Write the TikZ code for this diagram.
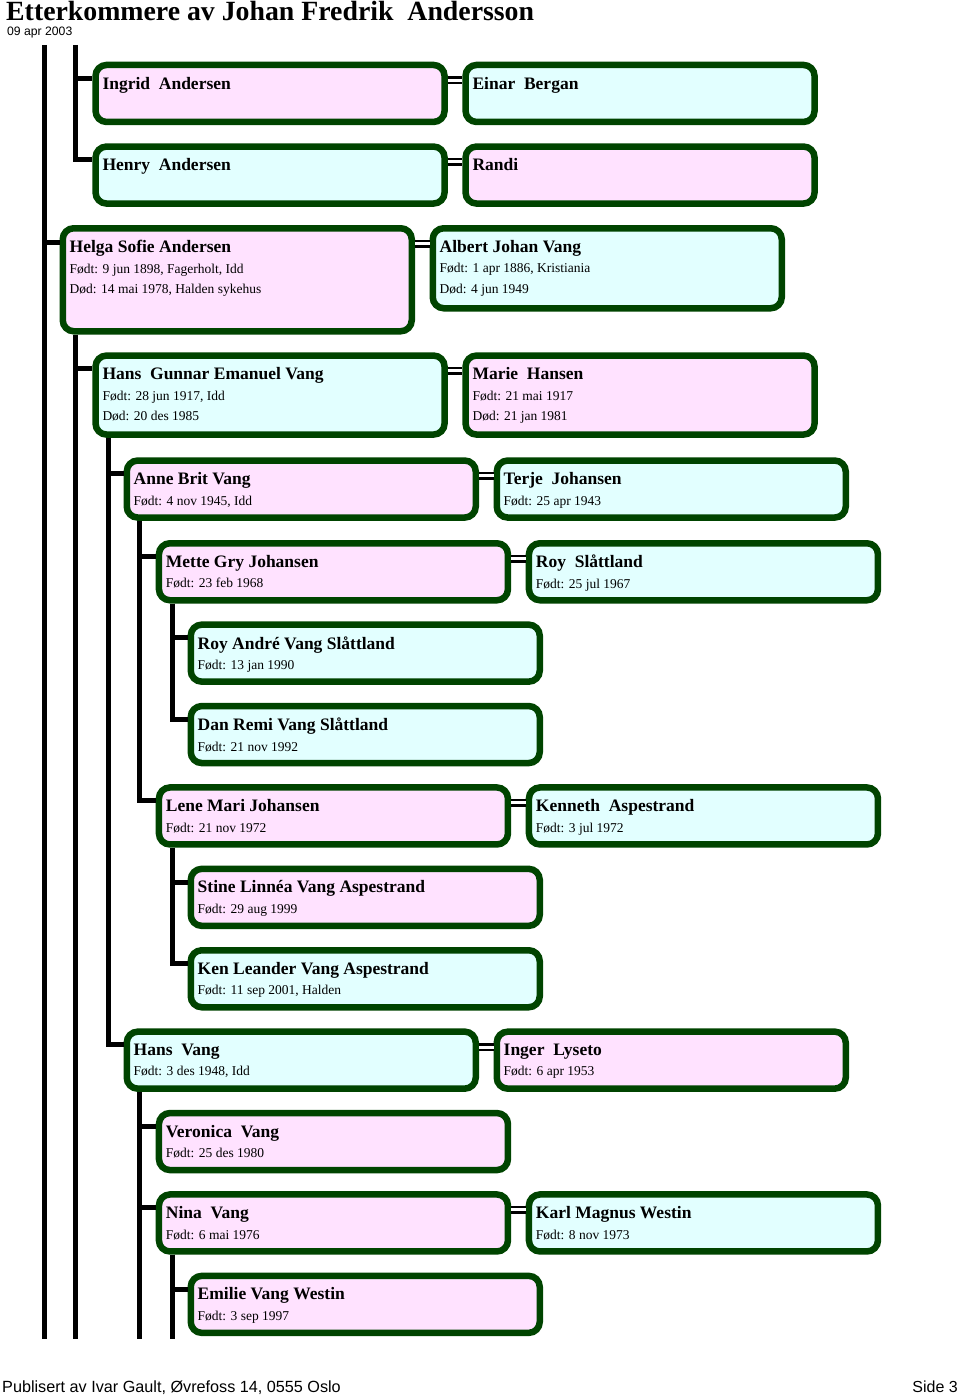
\documentclass[tikz,border=0pt]{standalone}
\usepackage{fontspec}
\setmainfont{Liberation Serif}
\setsansfont{Liberation Sans}
\usepackage{tikz}
\usetikzlibrary{positioning}

\definecolor{mork}{RGB}{0,68,0}
\definecolor{lyserosa}{RGB}{255,226,255}
\definecolor{lysebla}{RGB}{226,255,255}

\newcommand{\navn}[1]{{\fontsize{17.5}{20.5}\selectfont\bfseries #1}}

\tikzset{
  boks/.style={draw=mork, line width=6.5pt, rounded corners=11pt, anchor=north west,
    minimum width=349pt, minimum height=57pt, inner sep=0pt},
  rosa/.style={boks, fill=lyserosa},
  bla/.style={boks, fill=lysebla},
  tekst/.style={anchor=north west, align=left, inner sep=0pt, xshift=10pt, yshift=-15pt,
    font=\fontsize{13.5}{20.5}\selectfont},
  linje/.style={line width=5pt},
  gift/.style={double, line width=2.4pt, double distance=3pt}
}

\begin{document}
\begin{tikzpicture}[x=1pt, y=-1pt]
    \useasboundingbox (0,0) rectangle (960,1397);

    % overskrift og bunntekst
    \node[anchor=base west, inner sep=0pt, font=\fontsize{27.8}{30}\selectfont\bfseries] (tittel) at (6,20.5) {Etterkommere av Johan Fredrik~~Andersson};
    \node[anchor=base west, inner sep=0pt, font=\sffamily\fontsize{12.2}{14}\selectfont] (dato) at (7,35.5) {09 apr 2003};
    \node[anchor=base west, inner sep=0pt, font=\sffamily\fontsize{16.2}{18}\selectfont] (utgiver) at (2,1392) {Publisert av Ivar Gault, Øvrefoss 14, 0555 Oslo};
    \node[anchor=base east, inner sep=0pt, font=\sffamily\fontsize{16}{18}\selectfont] (side) at (958,1392) {Side 3};

    % linjene fortsetter over og under siden
    \coordinate (topp) at (0,45);
    \coordinate (bunn) at (0,1339);

    % bokser
    \node[rosa] (ingrid) at (92.3,61.7) {};
    \node[bla, right=14.5pt of ingrid.north east, anchor=north west] (einar) {};
    \node[bla] (henry) at (92.3,143.3) {};
    \node[rosa, right=14.5pt of henry.north east, anchor=north west] (randi) {};
    \node[rosa, minimum height=103pt] (helga) at (59.5,225) {};
    \node[bla, minimum height=80pt, right=14.5pt of helga.north east, anchor=north west] (albert) {};
    \node[bla, minimum height=79pt] (hansg) at (92.3,352.3) {};
    \node[rosa, minimum height=79pt, right=14.5pt of hansg.north east, anchor=north west] (marie) {};
    \node[rosa] (anneb) at (123.5,457.3) {};
    \node[bla, right=14.5pt of anneb.north east, anchor=north west] (terje) {};
    \node[rosa] (mette) at (155.7,540) {};
    \node[bla, right=14.5pt of mette.north east, anchor=north west] (roys) {};
    \node[bla] (roya) at (187.5,621.4) {};
    \node[bla] (danr) at (187.5,702.8) {};
    \node[rosa] (lene) at (155.7,784.2) {};
    \node[bla, right=14.5pt of lene.north east, anchor=north west] (kenneth) {};
    \node[rosa] (stine) at (187.5,865.6) {};
    \node[bla] (ken) at (187.5,947) {};
    \node[bla] (hansv) at (123.5,1028.4) {};
    \node[rosa, right=14.5pt of hansv.north east, anchor=north west] (inger) {};
    \node[rosa] (veronica) at (155.7,1109.8) {};
    \node[rosa] (nina) at (155.7,1191.2) {};
    \node[bla, right=14.5pt of nina.north east, anchor=north west] (karl) {};
    \node[rosa] (emilie) at (187.5,1272.6) {};

    % tekst i boksene
    \node[tekst] (ingrid-t) at (ingrid.north west) {\navn{Ingrid~~Andersen}};
    \node[tekst] (einar-t) at (einar.north west) {\navn{Einar~~Bergan}};
    \node[tekst] (henry-t) at (henry.north west) {\navn{Henry~~Andersen}};
    \node[tekst] (randi-t) at (randi.north west) {\navn{Randi}};
    \node[tekst] (helga-t) at (helga.north west) {\navn{Helga Sofie Andersen}\\ Født: 9 jun 1898, Fagerholt, Idd\\ Død: 14 mai 1978, Halden sykehus};
    \node[tekst] (albert-t) at (albert.north west) {\navn{Albert Johan Vang}\\ Født: 1 apr 1886, Kristiania\\ Død: 4 jun 1949};
    \node[tekst] (hansg-t) at (hansg.north west) {\navn{Hans~~Gunnar Emanuel Vang}\\ Født: 28 jun 1917, Idd\\ Død: 20 des 1985};
    \node[tekst] (marie-t) at (marie.north west) {\navn{Marie~~Hansen}\\ Født: 21 mai 1917\\ Død: 21 jan 1981};
    \node[tekst] (anneb-t) at (anneb.north west) {\navn{Anne Brit Vang}\\ Født: 4 nov 1945, Idd};
    \node[tekst] (terje-t) at (terje.north west) {\navn{Terje~~Johansen}\\ Født: 25 apr 1943};
    \node[tekst] (mette-t) at (mette.north west) {\navn{Mette Gry Johansen}\\ Født: 23 feb 1968};
    \node[tekst] (roys-t) at (roys.north west) {\navn{Roy~~Slåttland}\\ Født: 25 jul 1967};
    \node[tekst] (roya-t) at (roya.north west) {\navn{Roy André Vang Slåttland}\\ Født: 13 jan 1990};
    \node[tekst] (danr-t) at (danr.north west) {\navn{Dan Remi Vang Slåttland}\\ Født: 21 nov 1992};
    \node[tekst] (lene-t) at (lene.north west) {\navn{Lene Mari Johansen}\\ Født: 21 nov 1972};
    \node[tekst] (kenneth-t) at (kenneth.north west) {\navn{Kenneth~~Aspestrand}\\ Født: 3 jul 1972};
    \node[tekst] (stine-t) at (stine.north west) {\navn{Stine Linnéa Vang Aspestrand}\\ Født: 29 aug 1999};
    \node[tekst] (ken-t) at (ken.north west) {\navn{Ken Leander Vang Aspestrand}\\ Født: 11 sep 2001, Halden};
    \node[tekst] (hansv-t) at (hansv.north west) {\navn{Hans~~Vang}\\ Født: 3 des 1948, Idd};
    \node[tekst] (inger-t) at (inger.north west) {\navn{Inger~~Lyseto}\\ Født: 6 apr 1953};
    \node[tekst] (veronica-t) at (veronica.north west) {\navn{Veronica~~Vang}\\ Født: 25 des 1980};
    \node[tekst] (nina-t) at (nina.north west) {\navn{Nina~~Vang}\\ Født: 6 mai 1976};
    \node[tekst] (karl-t) at (karl.north west) {\navn{Karl Magnus Westin}\\ Født: 8 nov 1973};
    \node[tekst] (emilie-t) at (emilie.north west) {\navn{Emilie Vang Westin}\\ Født: 3 sep 1997};

    % ektefeller
    \foreach \a/\b in {ingrid/einar, henry/randi, helga/albert, hansg/marie, anneb/terje,
                       mette/roys, lene/kenneth, hansv/inger, nina/karl}
        \draw[gift] ([yshift=-18.6pt]\a.north east) -- ([yshift=-18.6pt]\b.north west);

    % linjene fra toppen
    \draw[linje] ([xshift=-14.7pt]helga.north west |- topp) -- ([xshift=-14.7pt]helga.north west |- bunn);
    \draw[linje] ([xshift=-14.7pt, yshift=-17.5pt]helga.north west) -- ([yshift=-17.5pt]helga.north west);
    \draw[linje] ([xshift=-16.5pt]ingrid.north west |- topp) |- ([yshift=-16.5pt]henry.north west);
    \draw[linje] ([xshift=-16.5pt, yshift=-16.5pt]ingrid.north west) -- ([yshift=-16.5pt]ingrid.north west);

    % barn
    \draw[linje] ([xshift=16.3pt]helga.south west) |- ([yshift=-16.5pt]hansg.north west);
    \draw[linje] ([xshift=16.3pt]helga.south west) -- ([xshift=16.3pt]helga.south west |- bunn);
    \foreach \p/\c in {hansg/anneb, hansg/hansv, anneb/mette, anneb/lene, mette/roya, mette/danr,
                       lene/stine, lene/ken, hansv/veronica, hansv/nina, nina/emilie}
        \draw[linje] ([xshift=16.3pt]\p.south west) |- ([yshift=-16.5pt]\c.north west);
    \draw[linje] ([xshift=16.3pt]hansv.south west) -- ([xshift=16.3pt]hansv.south west |- bunn);
    \draw[linje] ([xshift=16.3pt]nina.south west) -- ([xshift=16.3pt]nina.south west |- bunn);
\end{tikzpicture}
\end{document}
